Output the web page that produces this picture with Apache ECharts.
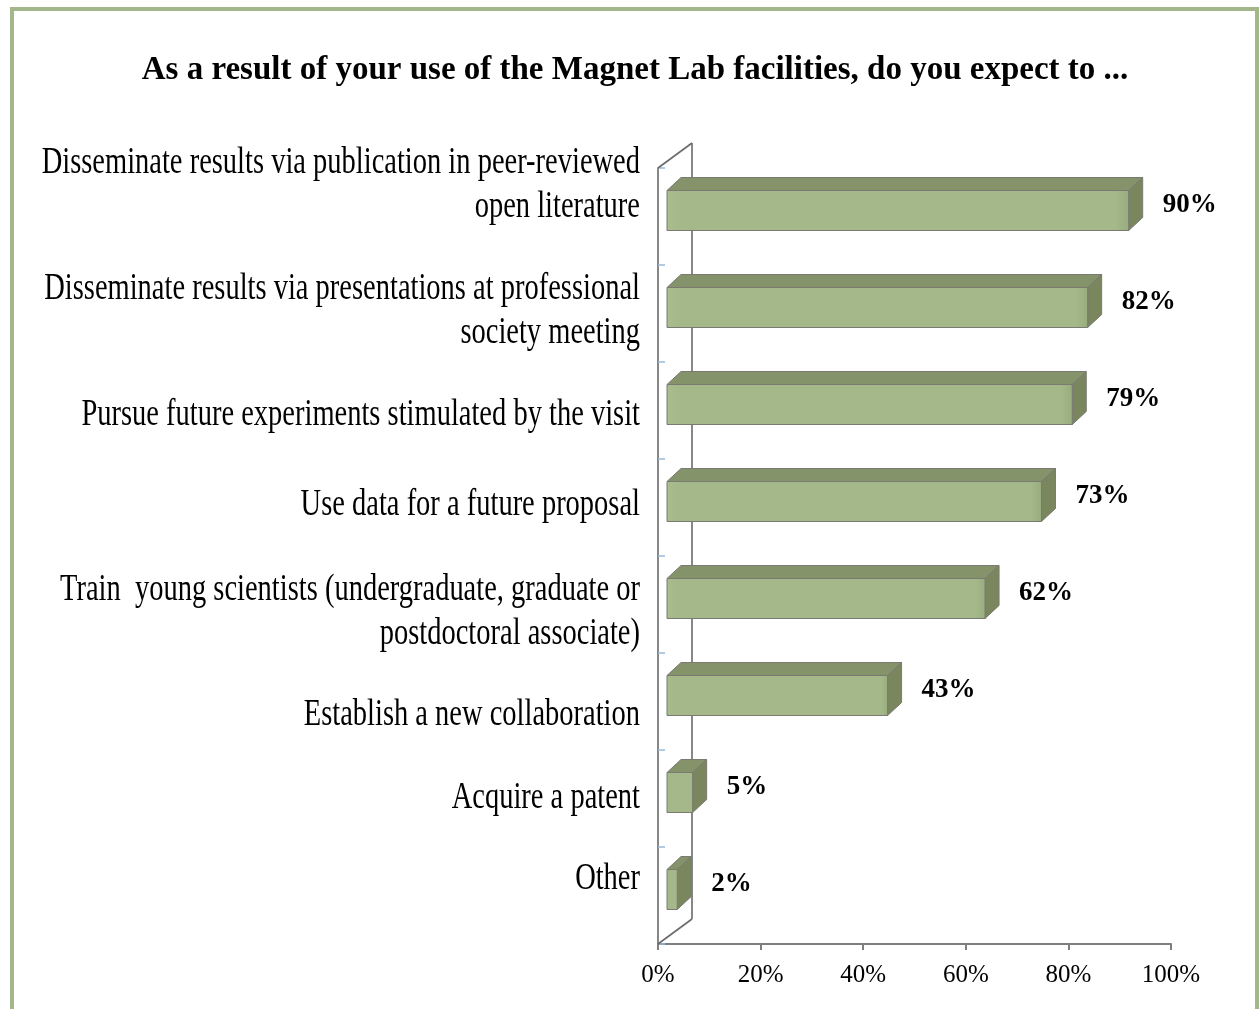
<!DOCTYPE html>
<html>
<head>
<meta charset="utf-8">
<script src="https://cdn.jsdelivr.net/npm/echarts@6/dist/echarts.min.js"></script>
<style>
  html, body { margin: 0; padding: 0; background: #fff; }
  #chart { width: 1260px; height: 1009px; }
</style>
</head>
<body>
<div id="chart"></div>
<script>
// Survey answers, one bar per expected outcome (percent of respondents)
const categories = [
  'Disseminate results via publication in peer-reviewed\nopen literature',
  'Disseminate results via presentations at professional\nsociety meeting',
  'Pursue future experiments stimulated by the visit',
  'Use data for a future proposal',
  'Train  young scientists (undergraduate, graduate or\npostdoctoral associate)',
  'Establish a new collaboration',
  'Acquire a patent',
  'Other'
];
const percents = [90, 82, 79, 73, 62, 43, 5, 2];
const tickValues = [0, 20, 40, 60, 80, 100];

// vertical nudges (px) for the category text blocks
const labelNudge = [-31, -2, 5, -2, 8, 14, 0, -16];

const SERIF = '"Liberation Serif", "Times New Roman", serif';
const FRONT = { dx: 9, dy: -6 };   // bar front face offset inside the depth
const DEPTH = { dx: 14, dy: -13 }; // bar thickness in depth
const WALL = { dx: 34, dy: -25 };  // back wall offset
const BAR_H = 40;

const chart = echarts.init(document.getElementById('chart'), null, { renderer: 'canvas' });

function barItem(params, api) {
  const idx = api.value(0);
  const v = api.value(1);
  const p0 = api.coord([0, idx]);
  const p1 = api.coord([v, idx]);
  const x0 = p0[0] + FRONT.dx;
  const x1 = p1[0] + FRONT.dx;
  const yc = p0[1] + FRONT.dy;
  const yt = yc - BAR_H / 2;
  const yb = yc + BAR_H / 2;
  const dx = DEPTH.dx, dy = DEPTH.dy;
  const edge = '#7a7a72';
  return {
    type: 'group',
    children: [
      { type: 'polygon', shape: { points: [[x0, yt], [x0 + dx, yt + dy], [x1 + dx, yt + dy], [x1, yt]] },
        style: { fill: '#84936a', stroke: edge, lineWidth: 1 } },
      { type: 'polygon', shape: { points: [[x1, yt], [x1 + dx, yt + dy], [x1 + dx, yb + dy], [x1, yb]] },
        style: { fill: '#7a875e', stroke: edge, lineWidth: 1 } },
      { type: 'rect', shape: { x: x0, y: yt, width: x1 - x0, height: BAR_H },
        style: {
          fill: new echarts.graphic.LinearGradient(0, 0, 1, 0, [
            { offset: 0, color: '#a9bd8e' },
            { offset: 0.03, color: '#a4b889' },
            { offset: 0.97, color: '#a4b889' },
            { offset: 1, color: '#98ac7e' }
          ]),
          stroke: edge, lineWidth: 1 } },
      { type: 'text', x: x1 + dx + 20, y: yc - 5,
        style: { text: v + '%', font: 'bold 27px ' + SERIF, fill: '#000',
                 align: 'left', textAlign: 'left', verticalAlign: 'middle', textVerticalAlign: 'middle' } }
    ]
  };
}

function labelItem(params, api) {
  const idx = api.value(0);
  const p = api.coord([0, idx]);
  return {
    type: 'text',
    x: 640,
    y: p[1] + labelNudge[idx],
    scaleX: 0.77,
    style: {
      text: categories[idx],
      font: '37px ' + SERIF,
      fill: '#000',
      lineHeight: 44,
      align: 'right', textAlign: 'right',
      verticalAlign: 'middle', textVerticalAlign: 'middle'
    }
  };
}

function wallItem(params, api) {
  const cs = params.coordSys;
  const xl = cs.x, yt = cs.y, yb = cs.y + cs.height;
  const line = { stroke: '#6a6a6a', lineWidth: 1.6 };
  return {
    type: 'group',
    children: [
      { type: 'line', shape: { x1: xl, y1: yt, x2: xl + WALL.dx, y2: yt + WALL.dy }, style: line },
      { type: 'line', shape: { x1: xl + WALL.dx, y1: yt + WALL.dy, x2: xl + WALL.dx, y2: yb + WALL.dy }, style: line },
      { type: 'line', shape: { x1: xl, y1: yb, x2: xl + WALL.dx, y2: yb + WALL.dy }, style: line }
    ]
  };
}

chart.setOption({
  animation: false,
  backgroundColor: '#fff',
  title: {
    text: 'As a result of your use of the Magnet Lab facilities, do you expect to ...',
    left: 630, top: 49, textAlign: 'center',
    textStyle: { fontFamily: SERIF, fontWeight: 'bold', fontSize: 33, color: '#000' }
  },
  graphic: [{
    type: 'rect', z: 100, silent: true,
    shape: { x: 12, y: 9, width: 1245, height: 1010 },
    style: { fill: 'none', stroke: '#a3b78a', lineWidth: 4 }
  }],
  grid: { left: 658, top: 168, width: 513, height: 776, containLabel: false },
  xAxis: {
    type: 'value', min: 0, max: 100, interval: 20,
    axisLine: { show: true, lineStyle: { color: '#7f7f7f', width: 2 } },
    axisTick: { show: true, length: 6, lineStyle: { color: '#7f7f7f', width: 2 } },
    splitLine: { show: false },
    axisLabel: { formatter: '{value}%', margin: 19, fontFamily: SERIF, fontSize: 25, color: '#000' }
  },
  yAxis: {
    type: 'category', data: categories, inverse: true,
    axisLine: { show: true, lineStyle: { color: '#6a6a6a', width: 1.6 } },
    axisTick: { show: true, inside: true, length: 7, lineStyle: { color: '#9cb9d9', width: 1.5 } },
    axisLabel: { show: false },
    splitLine: { show: false }
  },
  series: [
    { type: 'custom', name: 'wall', renderItem: wallItem, data: [[0]], z: 1, silent: true },
    { type: 'custom', name: 'labels', renderItem: labelItem,
      data: categories.map((c, i) => [i]), encode: { y: 0 }, z: 2, silent: true },
    { type: 'custom', name: 'bars', renderItem: barItem,
      data: percents.map((v, i) => [i, v]), encode: { y: 0, x: 1 }, z: 3 }
  ]
});
</script>
</body>
</html>
